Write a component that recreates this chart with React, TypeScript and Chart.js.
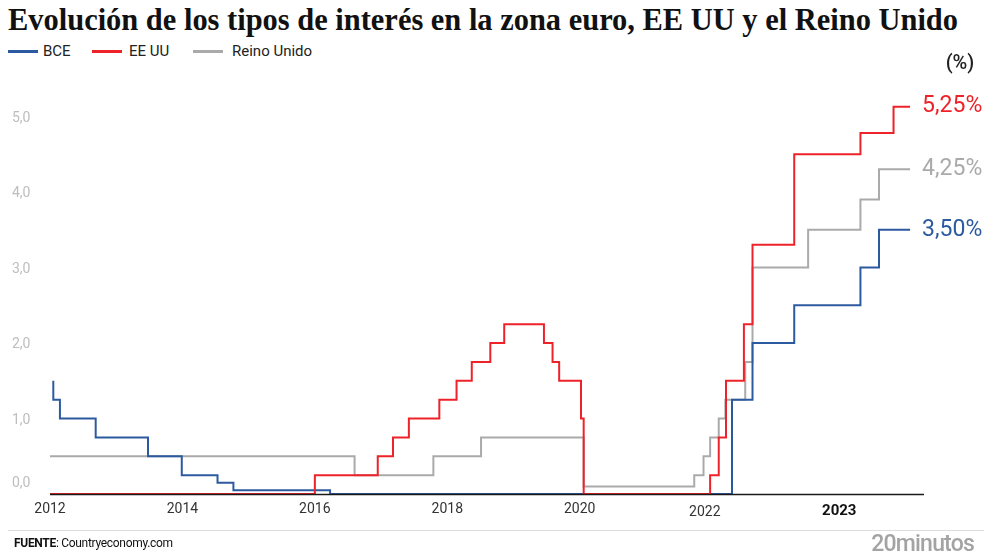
import React, { useEffect, useRef, useMemo } from "react";
import { Chart, registerables } from "chart.js";

Chart.register(...registerables);

// ---- Data (x values are positions on the chart's own time axis, in years) ----
const bceDates = [2012.05, 2012.05, 2012.15, 2012.69, 2013.48, 2013.99, 2014.53, 2014.77, 2016.23, 2022.3, 2022.61, 2023.24, 2024.24, 2024.52, 2024.99];
const bceRates = [1.5, 1.25, 1.0, 0.75, 0.5, 0.25, 0.15, 0.05, 0, 1.25, 2.0, 2.5, 3.0, 3.5, 3.5];

const usDates = [2012.0, 2016.0, 2016.95, 2017.18, 2017.42, 2017.88, 2018.14, 2018.37, 2018.65, 2018.86, 2019.46, 2019.59, 2019.69, 2020.02, 2020.06, 2021.97, 2022.1, 2022.21, 2022.48, 2022.61, 2023.24, 2024.24, 2024.74, 2024.99];
const usRates = [0, 0.25, 0.5, 0.75, 1.0, 1.25, 1.5, 1.75, 2.0, 2.25, 2.0, 1.75, 1.5, 1.0, 0, 0.25, 0.75, 1.5, 2.25, 3.3, 4.5, 4.78, 5.13, 5.13];

const ukDates = [2012.0, 2016.6, 2017.79, 2018.51, 2020.06, 2021.73, 2021.87, 2021.97, 2022.1, 2022.2, 2022.5, 2022.61, 2023.45, 2024.24, 2024.52, 2024.99];
const ukRates = [0.5, 0.25, 0.5, 0.75, 0.1, 0.25, 0.5, 0.75, 1.0, 1.25, 1.75, 3.0, 3.5, 3.9, 4.3, 4.3];

const seriesNames = ["BCE", "EE UU", "Reino Unido"];
const endLabels = ["3,50%", "5,25%", "4,25%"];

const yTicks = [0, 1, 2, 3, 4, 5];
const yTickLabels = ["0,0", "1,0", "2,0", "3,0", "4,0", "5,0"];

const xTickValues = [2012, 2014, 2016, 2018, 2020, 2021.89, 2023.92];
const xTickLabels = ["2012", "2014", "2016", "2018", "2020", "2022", "2023"];

const X_MIN = 2012;
const X_MAX = 2025.2;
const Y_MIN = 0;
const Y_MAX = 5.5;

const COLORS = { bce: "#2c5aa0", us: "#ee2229", uk: "#aaaaaa" };

const TITLE = "Evolución de los tipos de interés en la zona euro, EE UU y el Reino Unido";
const TITLE_FONT = 'bold 31px "Liberation Serif"';

const toPoints = (xs: number[], ys: number[]) => xs.map((x, i) => ({ x, y: ys[i] }));

const decorPlugin = {
  id: "decor",
  afterDraw(chart: any) {
    const { ctx, scales } = chart;
    const x = scales.x;
    const y = scales.y;
    ctx.save();

    // y tick labels
    ctx.font = '14px Roboto';
    ctx.fillStyle = "#bdbdbd";
    ctx.textAlign = "left";
    ctx.textBaseline = "middle";
    yTicks.forEach((v, i) => {
      let py = y.getPixelForValue(v) + 1.5;
      if (v === 0) py -= 12.5;
      ctx.fillText(yTickLabels[i], 12, py);
    });

    // baseline axis
    const y0 = y.getPixelForValue(0) + 0.5;
    ctx.strokeStyle = "#1a1a1a";
    ctx.lineWidth = 1.6;
    ctx.beginPath();
    ctx.moveTo(x.getPixelForValue(X_MIN), y0);
    ctx.lineTo(x.getPixelForValue(X_MAX), y0);
    ctx.stroke();

    // x tick labels
    ctx.textAlign = "center";
    xTickValues.forEach((v, i) => {
      const lbl = xTickLabels[i];
      const px = x.getPixelForValue(v);
      let py = y0 + 15;
      if (lbl === "2022") {
        py += 3;
        ctx.font = '14px Roboto';
        ctx.fillStyle = "#333333";
      } else if (lbl === "2023") {
        py += 1.5;
        ctx.font = 'bold 15px Roboto';
        ctx.fillStyle = "#111111";
      } else {
        ctx.font = '14px Roboto';
        ctx.fillStyle = "#333333";
      }
      ctx.fillText(lbl, px, py);
    });

    // end labels
    ctx.textAlign = "left";
    ctx.font = '23px Roboto';
    chart.data.datasets.forEach((ds: any, i: number) => {
      const last = ds.data[ds.data.length - 1];
      const px = x.getPixelForValue(last.x);
      const py = y.getPixelForValue(last.y);
      ctx.fillStyle = ds.borderColor;
      ctx.fillText(endLabels[i], px + 12, py);
    });

    // unit
    ctx.font = '500 20px Roboto';
    ctx.fillStyle = "#222222";
    ctx.textAlign = "center";
    ctx.fillText("(%)", 960, 64);

    ctx.restore();
  },
};

function App() {
  const canvasRef = useRef<HTMLCanvasElement | null>(null);

  const titleScale = useMemo(() => {
    const c = document.createElement("canvas");
    const g = c.getContext("2d");
    if (!g) return 1;
    g.font = TITLE_FONT;
    const w = g.measureText(TITLE).width;
    return w > 0 ? 950 / w : 1;
  }, []);

  useEffect(() => {
    if (!canvasRef.current) return;
    const chart = new Chart(canvasRef.current, {
      type: "line",
      data: {
        datasets: [
          {
            label: seriesNames[0],
            data: toPoints(bceDates, bceRates),
            borderColor: COLORS.bce,
            borderWidth: 2,
            stepped: true,
            pointRadius: 0,
            fill: false,
            order: 1,
          },
          {
            label: seriesNames[1],
            data: toPoints(usDates, usRates),
            borderColor: COLORS.us,
            borderWidth: 2,
            stepped: true,
            pointRadius: 0,
            fill: false,
            order: 0,
          },
          {
            label: seriesNames[2],
            data: toPoints(ukDates, ukRates),
            borderColor: COLORS.uk,
            borderWidth: 2,
            stepped: true,
            pointRadius: 0,
            fill: false,
            order: 2,
          },
        ],
      },
      options: {
        responsive: false,
        animation: false,
        devicePixelRatio: 1,
        layout: { padding: { left: 50, right: 66, top: 78.75, bottom: 62 } },
        plugins: { legend: { display: false }, tooltip: { enabled: false } },
        scales: {
          x: { type: "linear", min: X_MIN, max: X_MAX, display: false },
          y: { type: "linear", min: Y_MIN, max: Y_MAX, display: false },
        },
      },
      plugins: [decorPlugin],
    });
    return () => chart.destroy();
  }, []);

  const legendItems = [
    { name: seriesNames[0], color: COLORS.bce, sx: 8, tx: 43 },
    { name: seriesNames[1], color: COLORS.us, sx: 92, tx: 129 },
    { name: seriesNames[2], color: COLORS.uk, sx: 193, tx: 232 },
  ];

  return (
    <div style={{ position: "absolute", left: 0, top: 0, width: 990, height: 556, background: "#fff", overflow: "hidden", fontFamily: "Roboto, sans-serif" }}>
      <div
        style={{
          position: "absolute",
          left: 8,
          top: 4,
          font: TITLE_FONT,
          lineHeight: "31px",
          color: "#111",
          whiteSpace: "nowrap",
          transform: `scaleX(${titleScale})`,
          transformOrigin: "left top",
        }}
      >
        {TITLE}
      </div>
      {legendItems.map((it) => (
        <React.Fragment key={it.name}>
          <div style={{ position: "absolute", left: it.sx, top: 49.5, width: 30, height: 3, background: it.color }} />
          <div style={{ position: "absolute", left: it.tx, top: 41, fontSize: 15, lineHeight: "20px", color: "#222", whiteSpace: "nowrap" }}>{it.name}</div>
        </React.Fragment>
      ))}
      <canvas ref={canvasRef} width={990} height={556} style={{ position: "absolute", left: 0, top: 0, width: 990, height: 556 }} />
      <div style={{ position: "absolute", left: 8, top: 530, width: 976, height: 1, background: "#dddddd" }} />
      <div style={{ position: "absolute", left: 14, top: 535, fontSize: 12, lineHeight: "16px", color: "#111", whiteSpace: "nowrap", letterSpacing: -0.3 }}>
        <b>FUENTE</b>: Countryeconomy.com
      </div>
      <div style={{ position: "absolute", right: 16, top: 530, fontSize: 23, fontWeight: 500, lineHeight: "28px", color: "#a3a3a3", letterSpacing: -0.8, whiteSpace: "nowrap" }}>
        20minutos
      </div>
    </div>
  );
}

export default App;
